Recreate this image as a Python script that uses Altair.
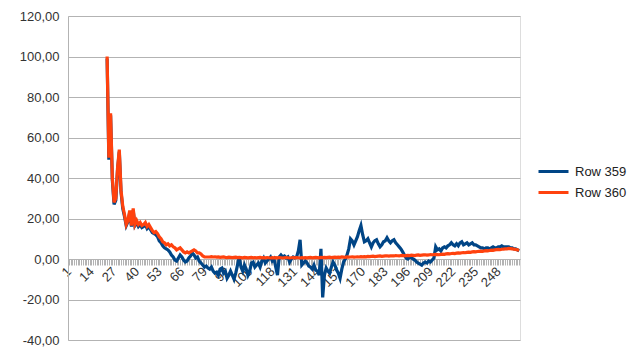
import altair as alt
import pandas as pd

# Categories 23..260 carry values (earlier categories are empty)
first_category = 23
last_category = 260
tick_labels = [1, 14, 27, 40, 53, 66, 79, 92, 105, 118, 131, 144, 157, 170, 183, 196, 209, 222, 235, 248]
y_ticks = [-40, -20, 0, 20, 40, 60, 80, 100, 120]
series_names = ["Row 359", "Row 360"]
series_colors = ["#004586", "#ff420e"]

row359 = [
    99, 49, 71, 39, 27, 29, 44, 53, 33, 25,
    21, 16.5, 18.5, 23, 16, 24, 16.5, 18, 16, 17,
    15.5, 16, 17, 15, 16, 14.5, 13, 12.5, 12, 11,
    9, 8, 6.5, 5.5, 5, 4.5, 3.5, 2, 1, -0.5,
    -1, 0.5, 2, 1, -0.5, -1.5, -1, 0.5, 1.5, 3,
    2, 0.5, 1, -1, -2, -3, -4, -3.5, -4.5, -5,
    -4, -6, -7, -6.5, -8, -5, -4.5, -7, -6, -9.5,
    -8, -6, -8, -10, -7, -3, 1, -4, -6, -3,
    -5, -8, -6, -2, -1.5, -4, -3, -2, -4, -1,
    0.5, -2, -1, 0, 1, -1, 0, -4, -8, 1,
    2, 1, 1.5, 0.5, 1, -1.5, 0, 1, 0.5, 1,
    4, 9.5, -3, -2, -1, -2, -3.5, -4, -5, -3,
    -5.5, -6, -8, 5, -19, -8, -4.5, -6, -7, -4,
    -1.5, -3, -5.5, -7, -9.5, -5, -1.5, 0, 2, 5,
    10, 9, 7, 9, 11, 14, 16.5, 12, 8.5, 9,
    10, 8, 6, 8, 9, 9.5, 7.5, 6, 7, 8.5,
    9, 10.5, 9, 8, 9, 9.5, 8, 7, 6, 5,
    3.5, 2, 0.5, 0, 1, 0.5, 0, -0.5, -1.5, -2,
    -2.5, -3, -2, -1.5, -2, -1, -1.5, -0.5, 0.5, 6,
    4.5, 5, 4, 5.5, 6, 5.5, 6.5, 7, 8, 7,
    6.5, 7.5, 6.5, 8, 8.5, 7, 7.5, 8, 7, 7.5,
    8, 7, 7, 6.5, 6, 5.5, 5.5, 5, 5.5, 5.5,
    5, 5.5, 6, 5.5, 5.5, 6, 6, 6.5, 6, 6,
    6, 6, 5.5, 5.5, 5, 5, 4.5, 4,
]

row360 = [
    100, 50, 72, 40, 28, 30, 45, 54, 34, 26,
    22, 17, 19, 24, 16.5, 25, 17, 19, 17, 18,
    16.5, 17, 18, 16, 17, 15.5, 14, 13, 13.5, 12.5,
    11, 10, 8.5, 8, 7, 7.5, 6.5, 7, 6, 5.5,
    4.5, 5, 5.5, 4.5, 3.5, 3, 3.5, 3, 3.5, 4,
    4.5, 4, 3, 3, 2.5, 1.5, 1, 1, 1, 1,
    1.2, 1.0, 1.1, 0.9, 1.0, 0.8, 0.9, 1.0, 0.8, 0.7,
    0.9, 0.8, 0.7, 0.8, 0.9, 0.7, 0.8, 0.7, 0.6, 0.8,
    0.7, 0.6, 0.7, 0.8, 0.6, 0.7, 0.6, 0.7, 0.8, 0.6,
    0.7, 0.6, 0.7, 0.6, 0.5, 0.7, 0.6, 0.7, 0.6, 0.7,
    0.6, 0.5, 0.6, 0.7, 0.6, 0.5, 0.6, 0.7, 0.6, 0.7,
    0.6, 0.5, 0.7, 0.6, 0.7, 0.6, 0.7, 0.8, 0.6, 0.7,
    0.8, 0.7, 0.6, 0.8, 0.7, 0.8, 0.7, 0.8, 0.9, 0.7,
    0.8, 0.9, 0.8, 0.9, 0.8, 1.0, 0.9, 0.8, 1.0, 0.9,
    1.0, 1.1, 0.9, 1.0, 1.1, 1.0, 1.2, 1.1, 1.2, 1.1,
    1.3, 1.2, 1.3, 1.4, 1.2, 1.3, 1.4, 1.5, 1.3, 1.4,
    1.5, 1.6, 1.4, 1.5, 1.6, 1.5, 1.7, 1.6, 1.5, 1.7,
    1.8, 1.6, 1.7, 1.8, 1.7, 1.9, 1.8, 1.7, 1.9, 2.0,
    1.8, 1.9, 2.0, 2.1, 1.9, 2.0, 2.2, 2.1, 2.2, 2.3,
    2.2, 2.1, 2.3, 2.4, 2.3, 2.5, 2.6, 2.5, 2.7, 2.8,
    2.7, 2.9, 3.0, 2.9, 3.1, 3.2, 3.1, 3.3, 3.4, 3.3,
    3.5, 3.6, 3.5, 3.7, 3.8, 3.9, 3.8, 4.0, 4.1, 4.0,
    4.2, 4.4, 4.3, 4.5, 4.6, 4.7, 4.6, 4.8, 4.9, 5.0,
    5.0, 5.2, 5.1, 5.0, 4.9, 4.7, 4.5, 4.3,
]

rows = []
for name, values in zip(series_names, [row359, row360]):
    for i, v in enumerate(values):
        rows.append({"category": first_category + i, "value": v, "series": name})
df = pd.DataFrame(rows)

font = "Liberation Sans"
grey = "#b3b3b3"
label_list = ",".join(str(v) for v in tick_labels)

y_label_expr = "(datum.value < 0 ? '-' : '') + replace(format(abs(datum.value), '.2f'), '.', ',')"
x_label_expr = f"indexof([{label_list}], datum.value) >= 0 ? datum.label : ''"

chart = (
    alt.Chart(df)
    .mark_line(strokeWidth=3.2, strokeJoin="miter", clip=True)
    .encode(
        x=alt.X(
            "category:Q",
            scale=alt.Scale(domain=[0.5, last_category + 0.5], nice=False, zero=False),
            axis=alt.Axis(
                values=list(range(1, last_category + 1)),
                labelExpr=x_label_expr,
                labelAngle=-45,
                labelAlign="right",
                labelBaseline="middle",
                labelOverlap=False,
                labelFlush=False,
                labelBound=False,
                labelPadding=4,
                labelFontSize=13,
                labelColor="#333333",
                labelFont=font,
                offset=-81,
                grid=False,
                tickSize=6,
                tickColor=grey,
                tickWidth=1,
                domainColor=grey,
                title=None,
            ),
        ),
        y=alt.Y(
            "value:Q",
            scale=alt.Scale(domain=[-40, 120], nice=False),
            axis=alt.Axis(
                values=y_ticks,
                labelExpr=y_label_expr,
                grid=True,
                gridColor=grey,
                domainColor=grey,
                ticks=False,
                labelPadding=9,
                labelFontSize=13,
                labelColor="#333333",
                labelFont=font,
                title=None,
            ),
        ),
        color=alt.Color(
            "series:N",
            scale=alt.Scale(domain=series_names, range=series_colors),
            legend=alt.Legend(
                title=None,
                orient="none",
                legendX=474,
                legendY=144,
                symbolType="M-1.5,0H1.5",
                symbolSize=400,
                symbolStrokeWidth=3,
                labelFontSize=13,
                labelFont=font,
                labelColor="#222222",
                labelOffset=10,
                padding=0,
            ),
        ),
        order=alt.Order("category:Q"),
    )
    .properties(
        width=452,
        height=324,
        autosize=alt.AutoSizeParams(type="none"),
        padding={"left": 68, "top": 16, "right": 120, "bottom": 22},
    )
    .configure_view(stroke=grey)
    .configure(background="white")
)

chart.save("out.html", embed_options={"renderer": "svg", "actions": False})
